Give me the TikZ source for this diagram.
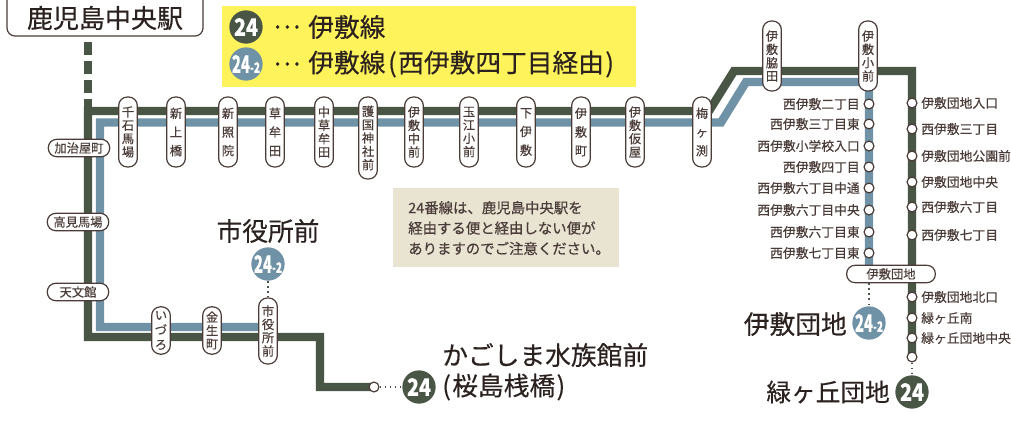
\documentclass[tikz,border=0pt]{standalone}
\usepackage{fontspec}
\usepackage{graphicx}
\setmainfont{Noto Sans CJK JP}[FakeBold=0.35]
\definecolor{lineone}{HTML}{4A5645}
\definecolor{linetwo}{HTML}{6F92A6}
\definecolor{stnedge}{HTML}{4A3C38}
\definecolor{stntext}{HTML}{4A3C38}
\definecolor{bigtext}{HTML}{2B2220}
\definecolor{legendbg}{HTML}{FFF35B}
\definecolor{notebg}{HTML}{E9E3D2}
\newcommand{\numone}{\scalebox{0.82}[1]{\bfseries 24}}
\newcommand{\numtwo}{\scalebox{0.62}[1]{\bfseries 24}\scalebox{0.42}[0.6]{\bfseries -2}}
\tikzset{
	routeone/.style={draw=lineone,line width=6.3pt},
	routetwo/.style={draw=linetwo,line width=6.3pt},
	stnv/.style={draw=stnedge,fill=white,line width=0.9pt,rounded corners=6.5pt,inner sep=0pt,minimum width=14pt,minimum height=52.5pt,align=center,text=stntext,font=\fontsize{9.2}{10}\selectfont},
	stnh/.style={draw=stnedge,fill=white,line width=0.9pt,rounded corners=6.2pt,inner sep=0pt,minimum width=46pt,minimum height=13pt,text=stntext,font=\fontsize{9.2}{10}\selectfont},
	stopdot/.style={circle,draw=stnedge,fill=white,line width=0.9pt,inner sep=0pt,minimum size=7.4pt},
	stopname/.style={inner sep=0pt,text=stntext,font=\fontsize{9.6}{11}\selectfont},
	bigname/.style={inner sep=0pt,text=bigtext,font=\fontsize{19.3}{22}\selectfont},
	badgeone/.style={circle,fill=lineone,inner sep=0pt,minimum size=25pt,text=white,font=\fontsize{18}{20}\selectfont},
	badgetwo/.style={circle,fill=linetwo,inner sep=0pt,minimum size=25pt,text=white,font=\fontsize{18}{20}\selectfont},
	linkdots/.style={draw=lineone,line width=1.2pt,dash pattern=on 1.2pt off 2.6pt}
}
\begin{document}
\begin{tikzpicture}[x=0.75pt,y=-0.75pt]
	\clip[use as bounding box] (0,0) rectangle (1011,423);

	%Legend and note
	\fill[legendbg] (222,6) rectangle (636,87);
	\fill[notebg] (393,188) rectangle (619,267);
	\node[anchor=west,inner sep=0pt,text=stntext,align=left,font=\fontsize{10.8}{15.3}\selectfont] (note) at (408,228)
		{24番線は、鹿児島中央駅を\\経由する便と経由しない便が\\ありますのでご注意ください。};

	\node[badgeone] (legone) at (246,27) {\numone};
	\node[badgetwo] (legtwo) at (246,64) {\numtwo};
	\node[bigname,anchor=west] (legonedots) at (273,27) {…};
	\node[bigname,anchor=west] (legtwodots) at (273,64) {…};
	\node[bigname,anchor=west] (legonetext) at (308,27) {伊敷線};
	\node[bigname,anchor=west] (legtwotext) at (308,64) {伊敷線\kern2pt(\kern1pt西伊敷四丁目経由\kern1pt)};

	%Route 24-2
	\coordinate (twoa) at (268,327);
	\coordinate (twob) at (100,327);
	\coordinate (twoc) at (100,122.5);
	\coordinate (twod) at (721,122.5);
	\coordinate (twoe) at (746,82);
	\coordinate (twof) at (869,82);
	\coordinate (twog) at (869,274);
	\draw[routetwo] (twoa) -- (twob) -- (twoc) -- (twod) -- (twoe) -- (twof) -- (twog);

	%Route 24
	\coordinate (onea) at (374,387);
	\coordinate (oneb) at (320,387);
	\coordinate (onec) at (320,337);
	\coordinate (oned) at (88,337);
	\coordinate (onee) at (88,111);
	\coordinate (onef) at (709,111);
	\coordinate (oneg) at (734,71);
	\coordinate (oneh) at (912,71);
	\coordinate (onei) at (912,357);
	\draw[routeone] (onea) -- (oneb) -- (onec) -- (oned) -- (onee) -- (onef) -- (oneg) -- (oneh) -- (onei);

	%Terminal box and link
	\coordinate (boxfoot) at (88,42);
	\draw[routeone,dash pattern=on 9.75pt off 4.5pt] (boxfoot) -- (onee);
	\draw[stnedge,fill=white,line width=0.9pt,rounded corners=6pt] (7,-10) rectangle (203,36);
	\node[inner sep=0pt,text=bigtext,font=\fontsize{19.5}{22}\selectfont] (terminal) at (105,18) {鹿児島中央駅};

	%Stations along the top
	\foreach \x/\name in {128/千\\石\\馬\\場, 324/中\\草\\牟\\田, 414/伊\\敷\\中\\前, 469/玉\\江\\小\\前, 635/伊\\敷\\仮\\屋}{
		\node[stnv] (st\x) at (\x,132) {\name};
	}
	\foreach \x/\name in {176/新\\上\\橋, 228/新\\照\\院, 275/草\\牟\\田, 526/下\\伊\\敷, 581/伊\\敷\\町, 702/梅\\ヶ\\渕}{
		\node[stnv,font=\fontsize{9.2}{14}\selectfont] (st\x) at (\x,132) {\name};
	}
	\node[stnv,minimum height=61.5pt] (st368) at (368,138) {護\\国\\神\\社\\前};

	%Stations on the upper right
	\node[stnv] (st772) at (772,56) {伊\\敷\\脇\\田};
	\node[stnv] (st868) at (868,56) {伊\\敷\\小\\前};

	%Stations on the left
	\node[stnh] (st148) at (79,148) {加治屋町};
	\node[stnh] (st222) at (78,222) {高見馬場};
	\node[stnh] (st292) at (78,292) {天文館};

	%Stations along the bottom
	\node[stnv,minimum height=35.5pt,font=\fontsize{9.2}{11}\selectfont] (st161) at (161,330.5) {い\\づ\\ろ};
	\node[stnv,minimum height=35.5pt,font=\fontsize{9.2}{10}\selectfont] (st212) at (212,330.5) {金\\生\\町};
	\node[stnv,minimum height=49.5pt] (st268) at (268,331) {市\\役\\所\\前};
	\node[bigname] (cityname) at (268,231) {市役所前};
	\node[badgetwo] (citybadge) at (268,264) {\numtwo};
	\draw[linkdots] (citybadge) -- (st268);

	%Stops of route 24-2
	\foreach \y/\name in {104/西伊敷二丁目, 124/西伊敷三丁目東, 146/西伊敷小学校入口, 167/西伊敷四丁目, 188/西伊敷六丁目中通, 210/西伊敷六丁目中央, 232/西伊敷六丁目東, 253/西伊敷七丁目東}{
		\node[stopdot] (two\y) at (869,\y) {};
		\node[stopname,anchor=east] (twoname\y) at (860,\y) {\name};
	}

	%Stops of route 24
	\foreach \y/\name in {103/伊敷団地入口, 129/西伊敷三丁目, 156/伊敷団地公園前, 182/伊敷団地中央, 207/西伊敷六丁目, 235/西伊敷七丁目, 297/伊敷団地北口, 318/緑ヶ丘南, 338/緑ヶ丘団地中央}{
		\node[stopdot] (one\y) at (912,\y) {};
		\node[stopname,anchor=west] (onename\y) at (921,\y) {\name};
	}
	\node[stopdot] (one357) at (912,357) {};

	%Terminals
	\node[stnh,minimum width=66.5pt] (danchi) at (891,274) {伊敷団地};
	\node[badgetwo] (danchibadge) at (869,323) {\numtwo};
	\node[bigname,anchor=east] (danchiname) at (847,324) {伊敷団地};
	\draw[linkdots] (danchi.south -| danchibadge) -- (danchibadge);

	\node[badgeone] (midoribadge) at (912,392) {\numone};
	\node[bigname,anchor=east,font=\fontsize{18.5}{22}\selectfont] (midoriname) at (890,392) {緑ヶ丘団地};
	\draw[linkdots] (one357) -- (midoribadge);

	\node[stopdot] (aquastop) at (374,387) {};
	\node[badgeone] (aquabadge) at (419,387) {\numone};
	\draw[linkdots] (aquastop) -- (aquabadge);
	\node[bigname,anchor=west] (aquaname) at (442,355) {かごしま水族館前};
	\node[bigname,anchor=west] (aquasub) at (442,387) {(\kern1pt桜島桟橋\kern1pt)};
\end{tikzpicture}
\end{document}
